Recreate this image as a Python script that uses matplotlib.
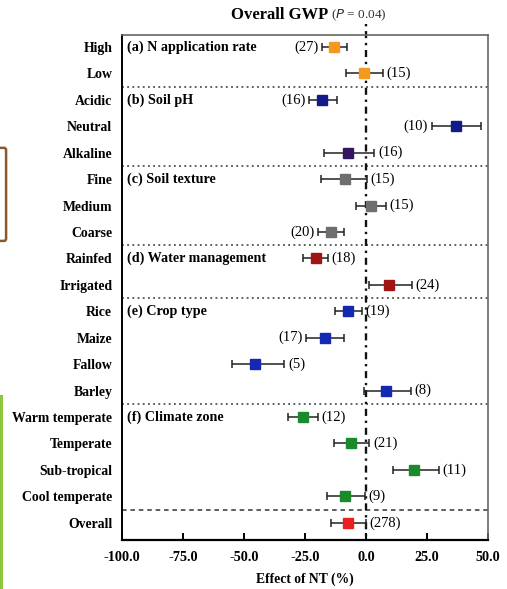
import matplotlib
matplotlib.use("Agg")
import matplotlib.pyplot as plt
from matplotlib.patches import FancyBboxPatch, Rectangle

plt.rcParams["font.family"] = ["Liberation Serif", "DejaVu Serif"]

labels = ["High", "Low", "Acidic", "Neutral", "Alkaline", "Fine", "Medium", "Coarse",
          "Rainfed", "Irrigated", "Rice", "Maize", "Fallow", "Barley",
          "Warm temperate", "Temperate", "Sub-tropical", "Cool temperate", "Overall"]
means = [-13, -1, -18, 37, -7.5, -8.6, 2, -14.4, -20.5, 9.6, -7.2, -16.8, -45.5, 8.2,
         -26, -6, 19.7, -8.6, -7.5]
lower = [-18, -8, -23.3, 27, -17.2, -18.5, -4.1, -19.6, -25.7, 1.4, -12.7, -24.6, -55, -0.8,
         -31.9, -13.1, 11.2, -15.9, -14.4]
upper = [-7.8, 6.9, -11.8, 47, 3.4, 0.5, 8.2, -8.9, -15.7, 18.8, -1.8, -9.0, -33.5, 18.5,
         -19.8, 1.4, 30, -0.4, -0.1]
counts = [27, 15, 16, 10, 16, 15, 15, 20, 18, 24, 19, 17, 5, 8, 12, 21, 11, 9, 278]
count_left = [True, False, True, True, False, False, False, True, False, False,
              False, True, False, False, False, False, False, False, False]
colors = ["#f39a1e"] * 2 + ["#141a8a", "#141a8a", "#35155e"] + ["#6e6e6e"] * 3 + \
         ["#a01414"] * 2 + ["#1428b4"] * 4 + ["#1a8a2a"] * 4 + ["#e82020"]
groups = ["(a) N application rate", "(b) Soil pH", "(c) Soil texture",
          "(d) Water management", "(e) Crop type", "(f) Climate zone"]
group_start = [0, 2, 5, 8, 10, 14]
separators = [1.5, 4.5, 7.5, 9.5, 13.5]
ticks = [-100, -75, -50, -25, 0, 25, 50]

fig = plt.figure(figsize=(5.07, 5.89), dpi=100)
ax = fig.add_axes([0.2406, 0.0832, 0.7219, 0.8574])

for i in range(len(labels)):
    ax.errorbar(means[i], i, xerr=[[means[i] - lower[i]], [upper[i] - means[i]]],
                fmt="s", color=colors[i], ecolor="#222222", elinewidth=1.1,
                capsize=3, capthick=1.1, markersize=7, zorder=3)
    if count_left[i]:
        ax.text(lower[i] - 1.5, i, "(%d)" % counts[i], ha="right", va="center", fontsize=10.5)
    else:
        ax.text(upper[i] + 1.5, i, "(%d)" % counts[i], ha="left", va="center", fontsize=10.5)

for s in separators:
    ax.axhline(s, color="#333333", linestyle=(0, (1.2, 2.2)), linewidth=1.1)
ax.axhline(17.5, color="#333333", linestyle=(0, (3, 2.5)), linewidth=1.1)
ax.plot([0, 0], [-0.85, 18.65], color="#111111", linestyle=(0, (1, 2, 3, 2)),
        linewidth=1.7, zorder=2, clip_on=False)

for g, r in zip(groups, group_start):
    ax.text(-98, r, g, ha="left", va="center", fontsize=10.2, fontweight="bold")

ax.set_xlim(-100, 50)
ax.set_ylim(18.65, -0.45)
ax.set_yticks(range(len(labels)))
ax.set_yticklabels(labels, fontsize=9.9, fontweight="bold")
ax.tick_params(axis="y", length=0, pad=7)
ax.set_xticks(ticks)
ax.set_xticklabels(["%.1f" % t for t in ticks], fontsize=10.3, fontweight="bold")
ax.tick_params(axis="x", direction="in", length=5, width=1.4, pad=8)
ax.set_xlabel("Effect of NT (%)", fontsize=9.8, fontweight="bold", labelpad=6)

for side in ["top", "right"]:
    ax.spines[side].set_color("#666666")
    ax.spines[side].set_linewidth(1.2)
ax.spines["left"].set_linewidth(1.4)
ax.spines["bottom"].set_linewidth(1.6)

fig.text(0.648, 0.974, "Overall GWP", ha="right", va="center", fontsize=12, fontweight="bold")
fig.text(0.653, 0.974, r"($\it{P}$ = 0.04)", ha="left", va="center", fontsize=9.5, color="#333333")

# cropped bits of the neighbouring figure at the left edge
fig.patches.append(FancyBboxPatch((-0.03, 0.595), 0.038, 0.15, boxstyle="round,pad=0.004",
                                  transform=fig.transFigure, facecolor="none",
                                  edgecolor="#8a5a2e", linewidth=1.8))
fig.patches.append(Rectangle((0, 0), 0.006, 0.33, transform=fig.transFigure,
                             facecolor="#8cc63f", edgecolor="none"))

fig.savefig("out.png", dpi=100)
plt.close(fig)
